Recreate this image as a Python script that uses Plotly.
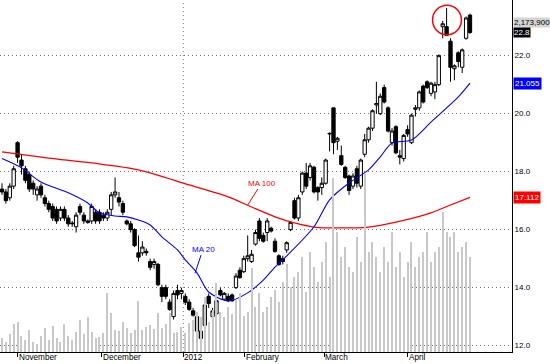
import plotly.graph_objects as go

# ---------------- data ----------------
day = list(range(121))

opens = [17.40, 17.30, 17.10, 17.50, 19.00, 18.40, 18.10, 17.90, 17.60, 17.20,
         17.50, 17.10, 16.90, 16.80, 16.70, 16.40, 16.70, 16.40, 16.20, 16.10,
         16.80, 16.50, 16.30, 16.30, 16.60, 16.60, 16.50, 16.40, 16.70, 17.20,
         17.10, 16.90, 16.30, 16.20, 16.00, 15.20, 15.20, 15.25, 14.90, 14.80,
         14.80, 14.00, 14.00, 13.50, 13.00, 13.90, 13.80, 13.70, 13.50, 13.20,
         13.00, 12.50, 12.70, 13.70, 13.00, 13.10, 13.90, 13.60, 13.70, 13.75,
         14.00, 14.60, 14.55, 15.00, 14.90, 15.50, 16.30, 15.80, 15.90, 16.05,
         15.60, 15.10, 15.00, 15.30, 16.00, 17.00, 16.40, 17.30, 17.95, 17.80,
         18.15, 17.45, 17.45, 17.60, 19.30, 20.20, 19.05, 18.55, 18.15, 17.85,
         17.50, 18.10, 17.50, 18.60, 19.10, 19.50, 20.30, 20.00, 20.90, 20.20,
         19.00, 19.55, 18.55, 18.45, 19.45, 19.00, 20.15, 20.20, 20.95, 21.10,
         20.70, 20.75, 21.00, 23.00, 23.00, 22.50, 21.55, 22.10, 21.60, 22.60,
         23.40]
highs = [17.60, 17.40, 17.60, 18.20, 19.05, 18.60, 18.20, 18.00, 17.70, 17.50,
         17.60, 17.20, 17.00, 16.90, 16.80, 16.80, 16.80, 16.50, 16.30, 16.60,
         16.90, 16.60, 16.35, 16.90, 16.70, 16.70, 16.60, 16.70, 17.30, 17.80,
         17.30, 17.00, 16.35, 16.30, 16.05, 15.80, 15.60, 15.35, 15.00, 15.00,
         14.85, 14.10, 14.10, 13.60, 13.90, 14.10, 14.00, 13.80, 13.60, 13.30,
         13.05, 12.60, 13.50, 13.80, 13.30, 13.60, 14.00, 13.85, 13.80, 13.80,
         14.50, 14.70, 15.10, 15.80, 15.30, 16.00, 16.40, 15.90, 16.40, 16.10,
         15.70, 15.15, 15.10, 15.60, 16.30, 17.10, 17.20, 18.00, 18.30, 18.30,
         18.20, 17.50, 17.80, 18.45, 19.35, 20.20, 19.20, 18.90, 18.20, 17.90,
         17.95, 18.20, 18.45, 19.30, 19.55, 20.15, 21.10, 20.70, 21.00, 20.25,
         19.50, 19.60, 18.75, 19.30, 19.60, 20.00, 20.30, 20.80, 21.00, 21.15,
         21.10, 21.10, 22.05, 23.20, 23.65, 22.60, 21.70, 22.15, 22.25, 23.35,
         23.45]
lows = [17.20, 16.90, 17.00, 17.40, 18.30, 17.90, 17.60, 17.30, 17.20, 17.00,
        17.10, 16.80, 16.60, 16.30, 16.20, 16.30, 16.30, 16.10, 16.10, 15.90,
        16.50, 16.20, 16.20, 16.20, 16.20, 16.20, 16.30, 16.30, 16.50, 17.10,
        16.80, 16.50, 16.15, 15.90, 15.40, 14.90, 15.10, 15.10, 14.60, 14.65,
        14.05, 13.50, 13.60, 13.20, 12.90, 13.60, 13.60, 13.40, 13.20, 13.00,
        12.45, 12.00, 12.60, 13.30, 12.95, 13.00, 13.70, 13.55, 13.50, 13.50,
        13.95, 14.30, 14.50, 14.90, 14.85, 15.45, 15.60, 15.55, 15.60, 15.90,
        15.20, 14.75, 14.80, 15.20, 15.95, 16.35, 16.30, 17.20, 17.40, 17.70,
        17.25, 17.00, 17.20, 17.55, 18.70, 18.60, 18.75, 18.20, 17.75, 17.20,
        17.40, 17.45, 17.40, 18.50, 19.00, 19.40, 20.00, 19.95, 20.35, 19.35,
        18.90, 18.60, 18.25, 18.35, 19.20, 18.95, 19.90, 20.10, 20.35, 20.85,
        20.60, 20.50, 20.95, 22.60, 22.70, 21.10, 21.15, 21.60, 21.40, 22.55,
        22.75]
closes = [17.30, 17.00, 17.50, 18.10, 18.50, 18.20, 17.70, 17.40, 17.40, 17.40,
          17.20, 16.90, 16.70, 16.40, 16.30, 16.70, 16.40, 16.20, 16.22, 16.50,
          16.60, 16.30, 16.25, 16.80, 16.30, 16.30, 16.40, 16.60, 17.20, 17.30,
          16.95, 16.60, 16.20, 16.00, 15.45, 15.05, 15.40, 15.20, 14.70, 14.90,
          14.10, 13.70, 13.70, 13.25, 13.80, 13.75, 13.90, 13.50, 13.25, 13.05,
          12.50, 12.25, 13.40, 13.45, 13.20, 13.55, 13.75, 13.80, 13.55, 13.55,
          14.40, 14.35, 15.00, 15.10, 15.15, 15.90, 15.70, 15.60, 16.30, 15.95,
          15.25, 14.80, 14.90, 15.55, 16.25, 16.40, 17.10, 17.95, 17.50, 18.20,
          17.30, 17.30, 17.60, 18.40, 19.32, 19.00, 19.15, 18.25, 17.80, 17.35,
          17.85, 17.60, 18.40, 19.10, 19.50, 20.10, 20.35, 20.60, 20.40, 19.40,
          19.40, 18.65, 18.50, 19.25, 19.30, 19.95, 20.20, 20.75, 20.40, 20.90,
          21.05, 21.00, 22.00, 23.10, 22.70, 21.60, 21.65, 21.80, 22.20, 23.30,
          22.80]
# volume in thousands of shares
volume = [320, 230, 410, 640, 690, 370, 270, 500, 230, 180, 370, 550, 270, 600, 320,
          230, 640, 370, 270, 460, 730, 410,
          800, 460, 320, 340, 440, 1350, 890, 500, 480, 690, 550, 440, 500, 1170,
          500, 570, 620, 530, 890, 550, 640, 890, 440, 460, 570,
          440, 660, 730, 920, 800, 1260, 690, 960, 1580, 920, 800, 1030, 870, 1190,
          1350, 820, 920, 1920, 1030, 1350, 920, 1030, 1260, 1420, 1150, 1600, 2020,
          1490, 1720,
          1830, 2180, 1370, 2290, 1950, 1600, 2060, 2520, 1720, 3980, 2750, 2180,
          2400, 1950, 1830, 2630, 2060, 4080, 2290, 2520,
          2180, 1830, 2400, 2060, 2750, 1950, 2290, 1720, 2060, 2520, 1950, 2180,
          2290, 2750, 2060, 2290, 2400, 3210, 2750, 2630, 2750, 2290, 2400, 2520,
          2173.9]

ma20_day = [0, 5, 10, 17, 22, 25, 29, 32, 35, 38, 41, 45, 47, 50, 53, 58, 63, 67,
            70, 72, 80, 84, 89, 94, 97, 100, 105, 110, 117, 120]
ma20_val = [18.45, 18.13, 17.64, 17.27, 16.92, 16.58, 16.47, 16.44, 16.33, 16.16,
            15.75, 15.30, 14.96, 14.51, 13.85, 13.54, 13.82, 14.26, 14.71, 14.96,
            16.10, 17.03, 17.61, 18.06, 18.51, 18.99, 19.09, 19.71, 20.58, 21.055]
ma100_day = [0, 12, 23, 35, 48, 58, 64, 70, 75, 80, 87, 94, 101, 110, 115, 120]
ma100_val = [18.68, 18.47, 18.30, 18.06, 17.54, 17.13, 16.78, 16.44, 16.23, 16.09,
             16.06, 16.09, 16.26, 16.58, 16.85, 17.112]

month_day = [4.1, 25.6, 46.5, 62.3, 82.6, 104.1]
month_lbl = ["November", "December", "2012", "February", "March", "April"]
price_ticks = [12, 14, 16, 18, 20, 22]

last_close = closes[-1]
last_vol = volume[-1] * 1000

FONT = "Liberation Sans, Arial, sans-serif"

fig = go.Figure()

fig.add_trace(go.Bar(
    x=day, y=volume, yaxis="y2", width=0.3,
    marker=dict(color="#c8c8c8", line=dict(width=0)),
    hoverinfo="skip", showlegend=False))

fig.add_trace(go.Scatter(
    x=ma100_day, y=ma100_val, mode="lines",
    line=dict(color="#ff0000", width=1.3, shape="spline", smoothing=0.8),
    hoverinfo="skip", showlegend=False))
fig.add_trace(go.Scatter(
    x=ma20_day, y=ma20_val, mode="lines",
    line=dict(color="#0000ff", width=1.1, shape="spline", smoothing=0.8),
    hoverinfo="skip", showlegend=False))

fig.add_trace(go.Candlestick(
    x=day, open=opens, high=highs, low=lows, close=closes,
    increasing=dict(line=dict(color="#000000", width=1), fillcolor="#ffffff"),
    decreasing=dict(line=dict(color="#000000", width=1), fillcolor="#000000"),
    whiskerwidth=0, showlegend=False))

annotations = []
for d, t in zip(month_day, month_lbl):
    annotations.append(dict(x=d, y=0, xref="x", yref="paper", text=t,
                            showarrow=False, xanchor="left", yanchor="top",
                            xshift=0, yshift=0, borderpad=0,
                            font=dict(family=FONT, size=8.2, color="#000000")))

# readout boxes on the right
annotations += [
    dict(x=1, xref="paper", y=last_close, yref="y", yshift=10,
         text=f"{last_vol:,.0f}", showarrow=False, xanchor="left", xshift=1,
         bgcolor="#d4d4d4", font=dict(family=FONT, size=8, color="#000000"),
         borderpad=0),
    dict(x=1, xref="paper", y=last_close, yref="y",
         text=f"{last_close:.1f}", showarrow=False, xanchor="left", xshift=1,
         bgcolor="#000000", font=dict(family=FONT, size=8, color="#ffffff"),
         borderpad=0),
    dict(x=1, xref="paper", y=ma20_val[-1], yref="y",
         text=f"{ma20_val[-1]:.3f}", showarrow=False, xanchor="left", xshift=1,
         bgcolor="#0000ff", font=dict(family=FONT, size=8, color="#ffffff"),
         borderpad=1),
    dict(x=1, xref="paper", y=ma100_val[-1], yref="y",
         text=f"{ma100_val[-1]:.3f}", showarrow=False, xanchor="left", xshift=1,
         bgcolor="#ff0000", font=dict(family=FONT, size=8, color="#ffffff"),
         borderpad=1),
]

# MA labels with pointers
annotations += [
    dict(x=63, y=16.85, xref="x", yref="y", text="MA 100", showarrow=True,
         arrowhead=0, arrowcolor="#ff0000", arrowwidth=1, ax=14, ay=-22,
         font=dict(family=FONT, size=8, color="#ff0000")),
    dict(x=49.5, y=14.5, xref="x", yref="y", text="MA 20", showarrow=True,
         arrowhead=0, arrowcolor="#0000ff", arrowwidth=1, ax=8, ay=-24,
         font=dict(family=FONT, size=8, color="#0000ff")),
]

shapes = [
    dict(type="line", xref="x", yref="paper", x0=month_day[2], x1=month_day[2],
         y0=0, y1=1, line=dict(color="#808080", width=1, dash="1px,3px"),
         layer="below"),
    dict(type="circle", xref="x", yref="y", x0=110.4, x1=117.8, y0=22.72, y1=23.74,
         line=dict(color="#ff0000", width=1.5)),
]

fig.update_layout(
    width=550, height=364,
    margin=dict(l=0, r=38, t=0, b=12),
    paper_bgcolor="#ffffff", plot_bgcolor="#ffffff",
    font=dict(family=FONT, size=8, color="#000000"),
    boxgap=0.15, boxgroupgap=0, bargap=0,
    annotations=annotations, shapes=shapes,
    xaxis=dict(range=[-0.51, 130.77], showgrid=False, zeroline=False,
               rangeslider=dict(visible=False),
               tickmode="array", tickvals=month_day, ticktext=[""] * len(month_day),
               ticks="outside", ticklen=4, tickcolor="#000000", tickwidth=1,
               showline=True, linecolor="#000000", linewidth=1),
    yaxis=dict(range=[11.78, 23.92], side="right", tickmode="array",
               tickvals=price_ticks, ticktext=[f"{v:.1f}" for v in price_ticks],
               showgrid=True, gridcolor="#707070", gridwidth=1, griddash="1px,3px",
               zeroline=False, showline=True, linecolor="#000000", linewidth=1,
               ticks="", tickfont=dict(family=FONT, size=8, color="#000000")),
    yaxis2=dict(range=[0, 8060], overlaying="y", side="left", visible=False),
    hovermode=False,
)

fig.write_html("out.html", config={"displayModeBar": False},
               post_script="document.body.style.margin='0';document.body.style.padding='0';")
